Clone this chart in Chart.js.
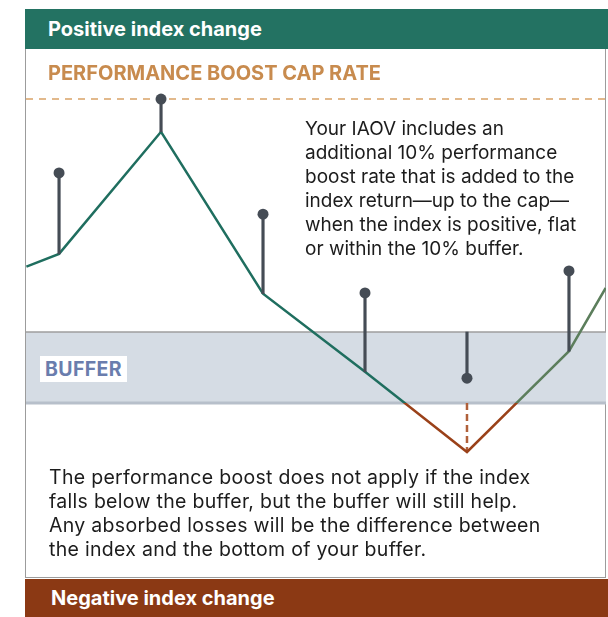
<!DOCTYPE html>
<html>
<head>
<meta charset="utf-8">
<script src="https://cdn.jsdelivr.net/npm/chart.js@4/dist/chart.umd.min.js"></script>
<style>
  html, body { margin: 0; padding: 0; background: #fff; }
  body { width: 608px; height: 617px; position: relative; overflow: hidden; font-family: Inter, 'Open Sans', sans-serif; }
  .bar { position: absolute; left: 25px; width: 583px; color: #fff; font-weight: 700; font-size: 20px; box-sizing: border-box; padding-left: 23px; }
  #top-bar { top: 9px; height: 40px; line-height: 40px; background: #237262; }
  #bottom-bar { top: 579px; height: 38px; line-height: 38px; background: #8b3914; padding-left: 26px; }
  #frame { position: absolute; left: 25px; top: 49px; width: 581px; height: 529px; box-sizing: border-box; border: 1.5px solid #9c9c9c; border-top: none; }
  #chart-wrap { position: absolute; left: 26px; top: 49px; width: 580px; height: 529px; }
  .label { position: absolute; font-weight: 700; }
  #cap-label { left: 48px; top: 61px; font-size: 20px; color: #c88b4e; }
  #buffer-label { left: 40px; top: 356px; width: 87px; height: 26px; line-height: 26px; background: #fff; color: #6a7dad; font-size: 19.5px; letter-spacing: 0.4px; text-align: center; }
  .note { position: absolute; line-height: 24px; color: #1c1c1c; white-space: nowrap; }
  #note-top { left: 305px; top: 117px; font-size: 19px; }
  #note-bottom { left: 49px; top: 465px; font-size: 19.5px; letter-spacing: 0.3px; }
</style>
</head>
<body>
<div id="top-bar" class="bar">Positive index change</div>
<div id="frame"></div>
<div id="chart-wrap"><canvas id="chart"></canvas></div>
<div id="cap-label" class="label">PERFORMANCE BOOST CAP RATE</div>
<div id="buffer-label" class="label">BUFFER</div>
<div id="note-top" class="note">Your IAOV includes an<br>additional 10% performance<br>boost rate that is added to the<br>index return—up to the cap—<br>when the index is positive, flat<br>or within the 10% buffer.</div>
<div id="note-bottom" class="note">The performance boost does not apply if the index<br>falls below the buffer, but the buffer will still help.<br>Any absorbed losses will be the difference between<br>the index and the bottom of your buffer.</div>
<div id="bottom-bar" class="bar">Negative index change</div>

<script>
// Index path (x = period, y = index change %)
const indexX = [0.68, 1, 2, 3, 4, 5, 6, 6.36];
const indexChange = [9.2, 11, 28.2, 5.4, -5.6, -16.9, -2.7, 6.2];

// Boosted result per period (marker) and where its stem starts
const markerX = [1, 2, 3, 4, 5, 6];
const boostedValue = [22.4, 32.8, 16.6, 5.5, -6.5, 8.6];
const stemBase = [11, 28.2, 5.4, -5.6, 0, -2.7];

const capRate = 32.8;
const bufferTop = 0;
const bufferBottom = -10;
const belowBufferPeriod = 5;

const xMin = 0.676, xMax = 6.363;
const yMin = -34.65, yMax = 39.86;

const TEAL = '#1f6e5f';
const GREEN = '#5c7e5c';
const BROWN = '#9a4119';
const STEM = '#454c55';

const pts = (xs, ys) => xs.map((x, i) => ({ x, y: ys[i] }));
const idxBelow = indexX.indexOf(belowBufferPeriod);

// clip a dataset above or below the bottom of the buffer
const zoneClip = {
  id: 'zoneClip',
  beforeDatasetDraw(chart, args) {
    const ds = chart.data.datasets[args.index];
    if (!ds.zone) return;
    const { ctx, chartArea: a } = chart;
    const yb = chart.scales.y.getPixelForValue(bufferBottom);
    ctx.save();
    ctx.beginPath();
    if (ds.zone === 'above') ctx.rect(a.left - 5, a.top - 5, a.right - a.left + 10, yb - a.top + 5);
    else ctx.rect(a.left - 5, yb, a.right - a.left + 10, a.bottom - yb + 5);
    ctx.clip();
  },
  afterDatasetDraw(chart, args) {
    if (chart.data.datasets[args.index].zone) chart.ctx.restore();
  }
};

new Chart(document.getElementById('chart'), {
  type: 'line',
  data: {
    datasets: [
      {
        type: 'scatter',
        data: pts(markerX, boostedValue),
        showLine: false,
        pointRadius: 5.5,
        pointBackgroundColor: STEM,
        pointBorderWidth: 0,
        order: 0
      },
      {
        type: 'bar',
        data: markerX.map((x, i) => ({ x, y: [stemBase[i], boostedValue[i]] })),
        backgroundColor: STEM,
        barThickness: 2.5,
        borderWidth: 0,
        order: 1
      },
      {
        data: pts(indexX, indexChange),
        zone: 'above',
        borderWidth: 2.5,
        pointRadius: 0,
        segment: { borderColor: ctx => ctx.p1DataIndex <= idxBelow ? TEAL : GREEN },
        order: 2
      },
      {
        data: pts(indexX, indexChange),
        zone: 'below',
        borderColor: BROWN,
        borderWidth: 2.5,
        pointRadius: 0,
        order: 2
      },
      {
        data: pts([belowBufferPeriod, belowBufferPeriod], [bufferBottom, indexChange[idxBelow]]),
        borderColor: '#b0603a',
        borderWidth: 2.5,
        borderDash: [7, 4],
        pointRadius: 0,
        order: 3
      },
      {
        data: pts([xMin, xMax], [capRate, capRate]),
        borderColor: '#e2b98c',
        borderWidth: 2,
        borderDash: [7, 6],
        pointRadius: 0,
        order: 4
      },
      {
        data: pts([xMin, xMax], [bufferBottom, bufferBottom]),
        borderColor: '#b7bfca',
        borderWidth: 3,
        pointRadius: 0,
        order: 5
      },
      {
        data: pts([xMin, xMax], [bufferTop, bufferTop]),
        borderColor: '#9e9e9e',
        borderWidth: 1.5,
        backgroundColor: '#d5dce4',
        fill: { value: bufferBottom },
        pointRadius: 0,
        order: 6
      }
    ]
  },
  options: {
    responsive: true,
    maintainAspectRatio: false,
    animation: false,
    layout: { padding: 0, autoPadding: false },
    plugins: { legend: { display: false }, tooltip: { enabled: false } },
    scales: {
      x: { type: 'linear', min: xMin, max: xMax, offset: false, display: false },
      y: { type: 'linear', min: yMin, max: yMax, display: false }
    }
  },
  plugins: [zoneClip]
});
</script>
</body>
</html>
